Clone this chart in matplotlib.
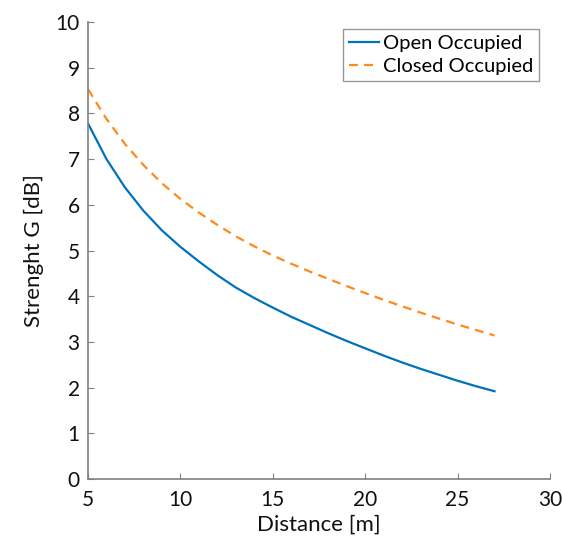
import numpy as np
import matplotlib.pyplot as plt

# distance [m] and strength G [dB]
distance = [5, 6, 7, 8, 9, 10, 11, 12, 13, 14, 15, 16,
            17, 18, 19, 20, 21, 22, 23, 24, 25, 26, 27]
open_occupied = [7.78, 7.00, 6.38, 5.87, 5.44, 5.08, 4.76, 4.46, 4.19, 3.96, 3.75, 3.55,
                 3.37, 3.19, 3.02, 2.86, 2.70, 2.55, 2.41, 2.28, 2.15, 2.03, 1.92]
closed_occupied = [8.53, 7.88, 7.33, 6.87, 6.47, 6.13, 5.83, 5.56, 5.31, 5.09, 4.89, 4.71,
                   4.54, 4.38, 4.22, 4.07, 3.92, 3.78, 3.64, 3.51, 3.38, 3.26, 3.14]

plt.rcParams['font.family'] = ['Lato', 'DejaVu Sans']


def main():
    fig = plt.figure(figsize=(5.62, 5.44), dpi=100)
    ax = fig.add_axes([0.1566, 0.1195, 0.822, 0.840])

    ax.plot(distance, open_occupied, color='#0072BD', lw=1.6, label='Open Occupied')
    ax.plot(distance, closed_occupied, color='#FF8A1C', lw=1.6, ls=(0, (4, 2.8)),
            label='Closed Occupied')

    ax.set_xlim(5, 30)
    ax.set_ylim(0, 10)
    ax.set_xticks(np.arange(5, 31, 5))
    ax.set_yticks(np.arange(0, 11, 1))

    for s in ['top', 'right']:
        ax.spines[s].set_visible(False)
    for s in ['left', 'bottom']:
        ax.spines[s].set_color('#808080')
        ax.spines[s].set_linewidth(1.2)
    ax.tick_params(direction='in', length=4, color='#808080', labelsize=15,
                   labelcolor='#111111')
    ax.tick_params(axis='x', pad=8)
    ax.tick_params(axis='y', pad=6)

    ax.set_xlabel('Distance [m]', fontsize=16, color='#111111', labelpad=3)
    ax.set_ylabel('Strenght G [dB]', fontsize=16, color='#111111', labelpad=8)

    leg = ax.legend(loc='upper right', bbox_to_anchor=(0.976, 0.985), fontsize=14.5,
                    frameon=True, fancybox=False, borderpad=0.3, labelspacing=0.3,
                    handlelength=1.45, handletextpad=0.2, borderaxespad=0)
    leg.get_frame().set_edgecolor('#808080')
    leg.get_frame().set_linewidth(1.0)

    fig.savefig('out.png', dpi=100)


if __name__ == "__main__":
    main()
